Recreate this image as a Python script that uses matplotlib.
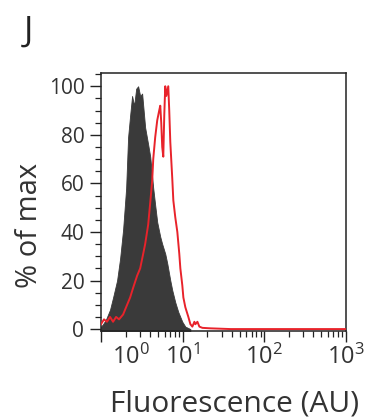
import numpy as np
import matplotlib
matplotlib.use("Agg")
from matplotlib import pyplot as plt
from matplotlib.ticker import FixedLocator, LogLocator, MultipleLocator, NullFormatter
from matplotlib.transforms import ScaledTranslation

plt.rcParams['font.family'] = ['Open Sans', 'DejaVu Sans']
plt.rcParams['mathtext.fontset'] = 'custom'
plt.rcParams['mathtext.rm'] = 'Open Sans'

# control (filled dark) histogram, log10 fluorescence vs % of max
log_fluor_ctrl = [0.00, 0.025, 0.062, 0.111, 0.148, 0.197, 0.234, 0.271, 0.308, 0.332,
                  0.357, 0.381, 0.406, 0.431, 0.455, 0.480, 0.504, 0.541, 0.578, 0.603,
                  0.640, 0.664, 0.689, 0.726, 0.750, 0.787, 0.812, 0.849, 0.873, 0.910,
                  0.947, 0.996, 1.033, 1.095]
pct_ctrl = [1, 2, 4, 8, 13, 20, 29, 41, 58, 79,
            88, 96, 92, 99, 100, 96, 97, 83, 76, 71,
            58, 51, 44, 38, 35, 31, 27, 20, 16, 11,
            7, 3, 1, 0]

# sample (red outline) histogram
log_fluor_smp = [0.00, 0.037, 0.074, 0.111, 0.148, 0.185, 0.221, 0.271, 0.320, 0.357,
                 0.394, 0.443, 0.480, 0.517, 0.541, 0.578, 0.603, 0.627, 0.640, 0.664,
                 0.689, 0.713, 0.726, 0.738, 0.750, 0.763, 0.775, 0.787, 0.800, 0.824,
                 0.836, 0.849, 0.873, 0.886, 0.910, 0.935, 0.959, 0.972, 0.996, 1.009,
                 1.033, 1.070, 1.095, 1.119, 1.144, 1.156, 1.181, 1.205, 1.242, 1.341,
                 1.587, 3.0]
pct_smp = [2, 4, 3, 5, 3, 5, 4, 6, 10, 13,
           17, 22, 25, 31, 35, 43, 52, 61, 70, 79,
           86, 90, 92, 85, 75, 71, 88, 100, 96, 100,
           90, 77, 62, 53, 46, 40, 31, 25, 18, 13,
           9, 5, 2, 1, 3, 2, 3, 1, 0.5, 0.3,
           0, 0]

xticks = [1, 10, 100, 1000]
xticklabels = ['$\\mathregular{10^{0}}$', '$\\mathregular{10^{1}}$',
               '$\\mathregular{10^{2}}$', '$\\mathregular{10^{3}}$']
yticks = [0, 20, 40, 60, 80, 100]

txt = '#333333'
ybase = -0.8

fig = plt.figure(figsize=(3.74, 4.19), dpi=100)
ax = fig.add_axes([0.270, 0.210, 0.655, 0.616])

xc = 10 ** np.array(log_fluor_ctrl)
xs = 10 ** np.array(log_fluor_smp)
ax.fill_between(xc, pct_ctrl, ybase, color='#3a3a3a', lw=0.6, zorder=2)
ax.plot(xs, pct_smp, color='#e8232b', lw=1.4, zorder=3)

ax.set_xscale('log')
ax.set_xlim(1, 1000)
ax.set_ylim(ybase, 105.5)

ax.xaxis.set_major_locator(FixedLocator(xticks))
ax.set_xticklabels(xticklabels)
ax.xaxis.set_minor_locator(LogLocator(base=10, subs=np.arange(2, 10)))
ax.xaxis.set_minor_formatter(NullFormatter())
ax.set_yticks(yticks)
ax.yaxis.set_minor_locator(MultipleLocator(5))

ax.tick_params(which='major', direction='out', length=8, width=1, colors='#222222')
ax.tick_params(which='minor', direction='out', length=4, width=0.9, colors='#222222')
ax.tick_params(axis='x', which='major', labelsize=17, labelcolor=txt, pad=2)
ax.tick_params(axis='y', which='major', labelsize=15, labelcolor=txt, pad=4)
ax.tick_params(top=False, right=False)
for s in ax.spines.values():
    s.set_color('#222222')
    s.set_linewidth(1.1)

# first decade label sits to the right of its tick
lab0 = ax.get_xticklabels()[0]
lab0.set_transform(lab0.get_transform() + ScaledTranslation(30 / 100, 0, fig.dpi_scale_trans))

fig.text(0.627, 0.017, 'Fluorescence (AU)', ha='center', va='baseline', fontsize=21.5, color=txt)
fig.text(0.078, 0.463, '% of max', ha='center', va='center', rotation=90, fontsize=21, color=txt)
fig.text(0.064, 0.902, 'J', ha='left', va='baseline', fontsize=25, color='#222222')

fig.savefig('out.png', dpi=100)
